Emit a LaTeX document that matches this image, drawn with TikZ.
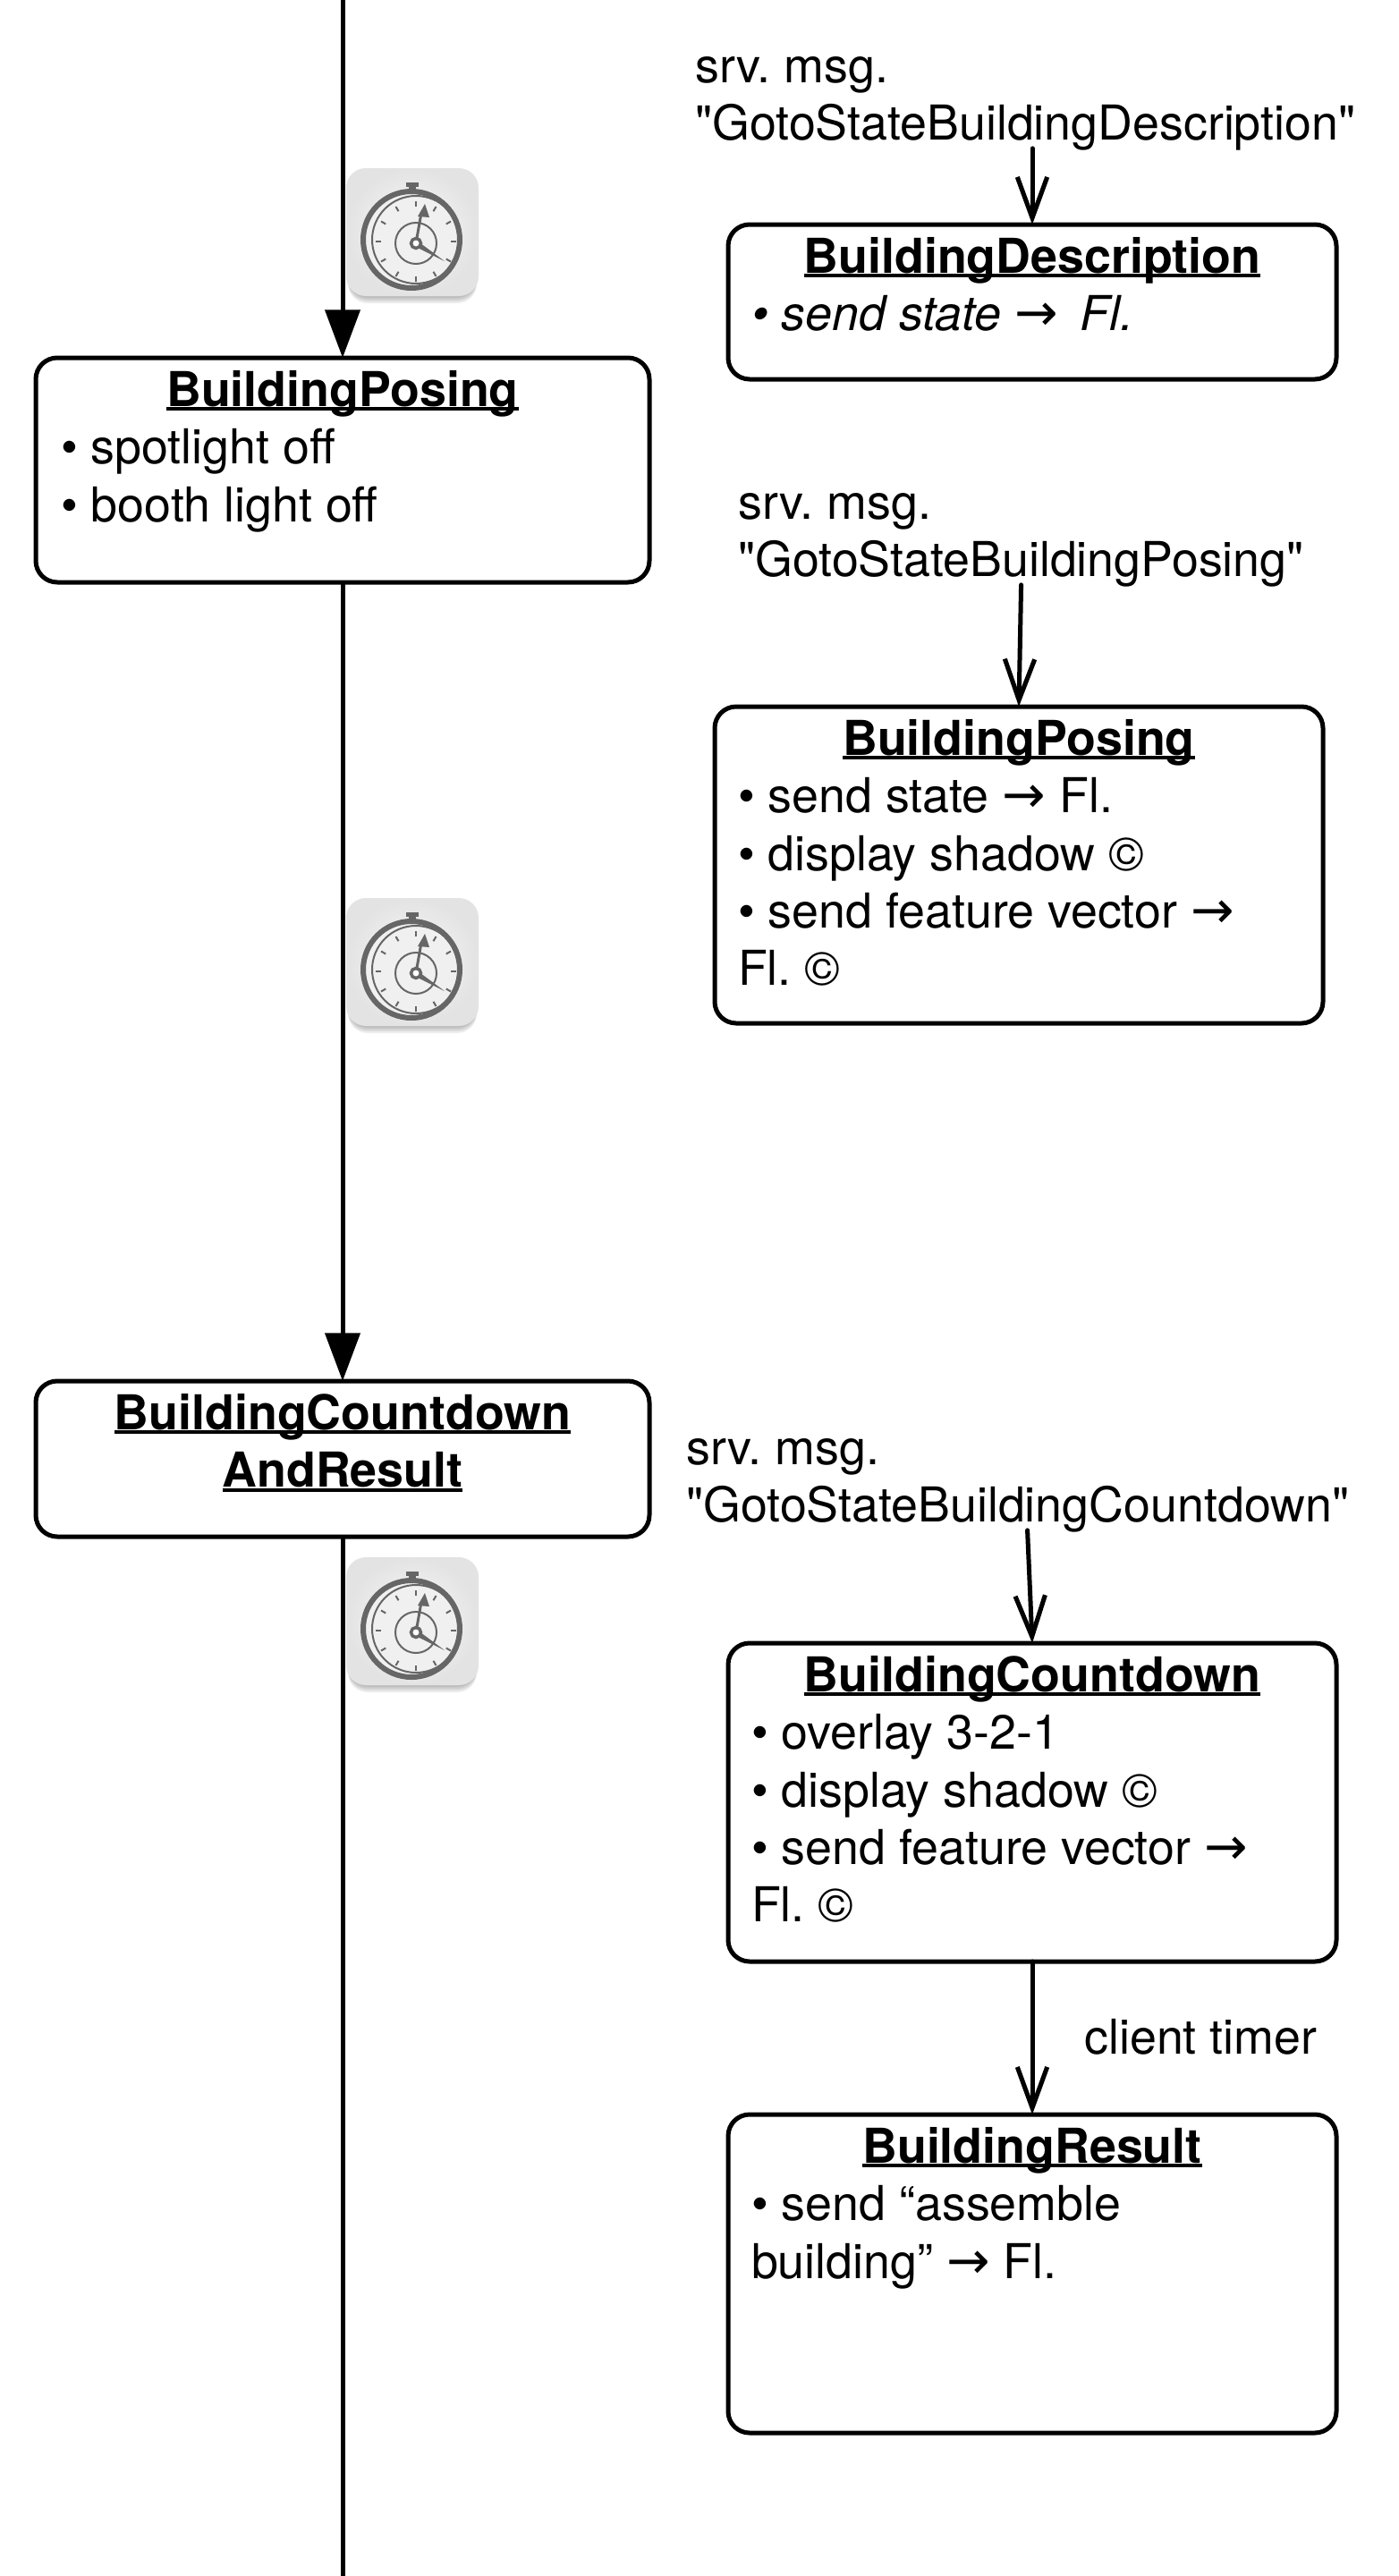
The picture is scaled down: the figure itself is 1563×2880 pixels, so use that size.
\documentclass[tikz,border=0pt]{standalone}
\usepackage{fontspec}
\usetikzlibrary{arrows.meta,calc}
\setmainfont{TeX Gyre Heros}[Ligatures=TeXOff]
\newfontfamily\symfont{DejaVu Sans}
\newlength{\unitpx}
\setlength{\unitpx}{0.02cm}
\newsavebox{\titlebox}
\newcommand{\statetitle}[1]{\sbox{\titlebox}{\bfseries #1}\makebox[\linewidth][c]{\rlap{\rule[-5\unitpx]{\wd\titlebox}{3.6\unitpx}}\usebox{\titlebox}}}
\newcommand{\statetext}[3][630]{\parbox[t][#2\unitpx][t]{#1\unitpx}{\setlength{\parindent}{0pt}#3}}
\newcommand{\toarrow}{{\symfont\fontsize{33}{36.7}\selectfont→}}
\newcommand{\itm}{\textbullet\hspace{15\unitpx}}
\tikzset{
  statebox/.style={draw=black,line width=5\unitpx,rounded corners=24\unitpx,fill=white,
    anchor=north,inner xsep=28\unitpx,inner ysep=14\unitpx,outer sep=0pt},
  clientbox/.style={statebox,inner xsep=26\unitpx},
  msglabel/.style={anchor=north west,inner sep=0pt,align=left},
  mainline/.style={line width=5\unitpx,-{Triangle[length=30.5pt,width=22pt]}},
  plainline/.style={line width=5\unitpx},
  msgarrow/.style={line width=5\unitpx,line cap=round,-{Straight Barb[length=26pt,width=19pt,line width=2.9pt]}},
  stopwatch/.pic={
    % base tile
    \foreach \o in {9,7,5,3}
      \fill [black,opacity=0.07,rounded corners=22\unitpx] (2,4+\o) rectangle (146,145+\o-3);
    \shade [rounded corners=22\unitpx,inner color=black!2,outer color=black!11] (0,0) rectangle (148,143);
    % case and dial
    \fill [black!6] (75,80) circle (54);
    \draw [black!60,line width=6\unitpx] (73,80) circle (54);
    \draw [black!60,line width=2\unitpx] (78,80) circle (49);
    \fill [black!60] (70,19) rectangle (78,28);
    \draw [black!60,line width=5\unitpx] (67,18) -- (81,18);
    \foreach \a in {0,30,...,330}
      \draw [black!60,line width=2\unitpx] ($(78,82)+(\a:39)$) -- ($(78,82)+(\a:45)$);
    \draw [black!60,line width=2\unitpx] (78,84) circle (23);
    % hands
    \draw [black!60,line width=3\unitpx] (78,84) -- (84,50);
    \fill [black!60] (88,40) -- (80,54) -- (93,55) -- cycle;
    \fill [black!60] (79,81) -- (110,104) -- (76,87) -- cycle;
    \fill [white] (78,84) circle (4);
    \draw [black!60,line width=3.5\unitpx] (78,84) circle (5.5);
  }
}
\begin{document}
\begin{tikzpicture}[x=\unitpx,y=-\unitpx]
  \fontsize{30.6}{36.7}\selectfont\frenchspacing
  \useasboundingbox (0,0) rectangle (1563,2880);
  % main line states
  \node [statebox] (posingleft) at (383,400) {\statetext{223}{\statetitle{BuildingPosing}\\\itm spotlight off\\\itm booth light off}};
  \node [statebox] (countdownleft) at (383,1544) {\statetext{146}{\statetitle{BuildingCountdown}\\\statetitle{AndResult}}};
  \coordinate (linetop) at (383,0);
  \coordinate (linebottom) at (383,2880);
  \draw [mainline] (linetop) -- (posingleft.north);
  \draw [mainline] (posingleft.south) -- (countdownleft.north);
  \draw [plainline] (countdownleft.south) -- (linebottom);
  % timers
  \pic at (387,188) {stopwatch};
  \pic at (387,1004) {stopwatch};
  \pic at (387,1741) {stopwatch};
  % client states
  \node [clientbox] (description) at (1154,251) {\statetext[628]{145}{\statetitle{BuildingDescription}\\\itshape\itm send state \toarrow\hspace{10\unitpx}\ Fl.}};
  \node [clientbox] (posingright) at (1139,790) {\statetext[628]{326}{\statetitle{BuildingPosing}\\\itm send state \toarrow\ Fl.\\\itm display shadow \copyright\\\itm send feature vector \toarrow\\Fl. \copyright}};
  \node [clientbox] (countdownright) at (1154,1837) {\statetext[628]{328}{\statetitle{BuildingCountdown}\\\itm overlay 3-2-1\\\itm display shadow \copyright\\\itm send feature vector \toarrow\\Fl. \copyright}};
  \node [clientbox] (result) at (1154,2364) {\statetext[628]{328}{\statetitle{BuildingResult}\\\itm send “assemble\\building” \toarrow\ Fl.}};
  % server messages
  \node [msglabel] (msgdescription) at (777,63) {srv. msg.\\"GotoStateBuildingDescription"};
  \node [msglabel] (msgposing) at (825,551) {srv. msg.\\"GotoStateBuildingPosing"};
  \node [msglabel] (msgcountdown) at (767,1608) {srv. msg.\\"GotoStateBuildingCountdown"};
  \node [msglabel] (timerlabel) at (1212,2257) {client timer};
  \draw [msgarrow,shorten <=-3\unitpx] (msgdescription.south -| description.north) -- (description.north);
  \draw [msgarrow,shorten <=-3\unitpx] (msgposing.south) -- (posingright.north);
  \draw [msgarrow,shorten <=-3\unitpx] ([xshift=11\unitpx]msgcountdown.south) -- (countdownright.north);
  \draw [msgarrow] (countdownright.south) -- (result.north);
\end{tikzpicture}
\end{document}
